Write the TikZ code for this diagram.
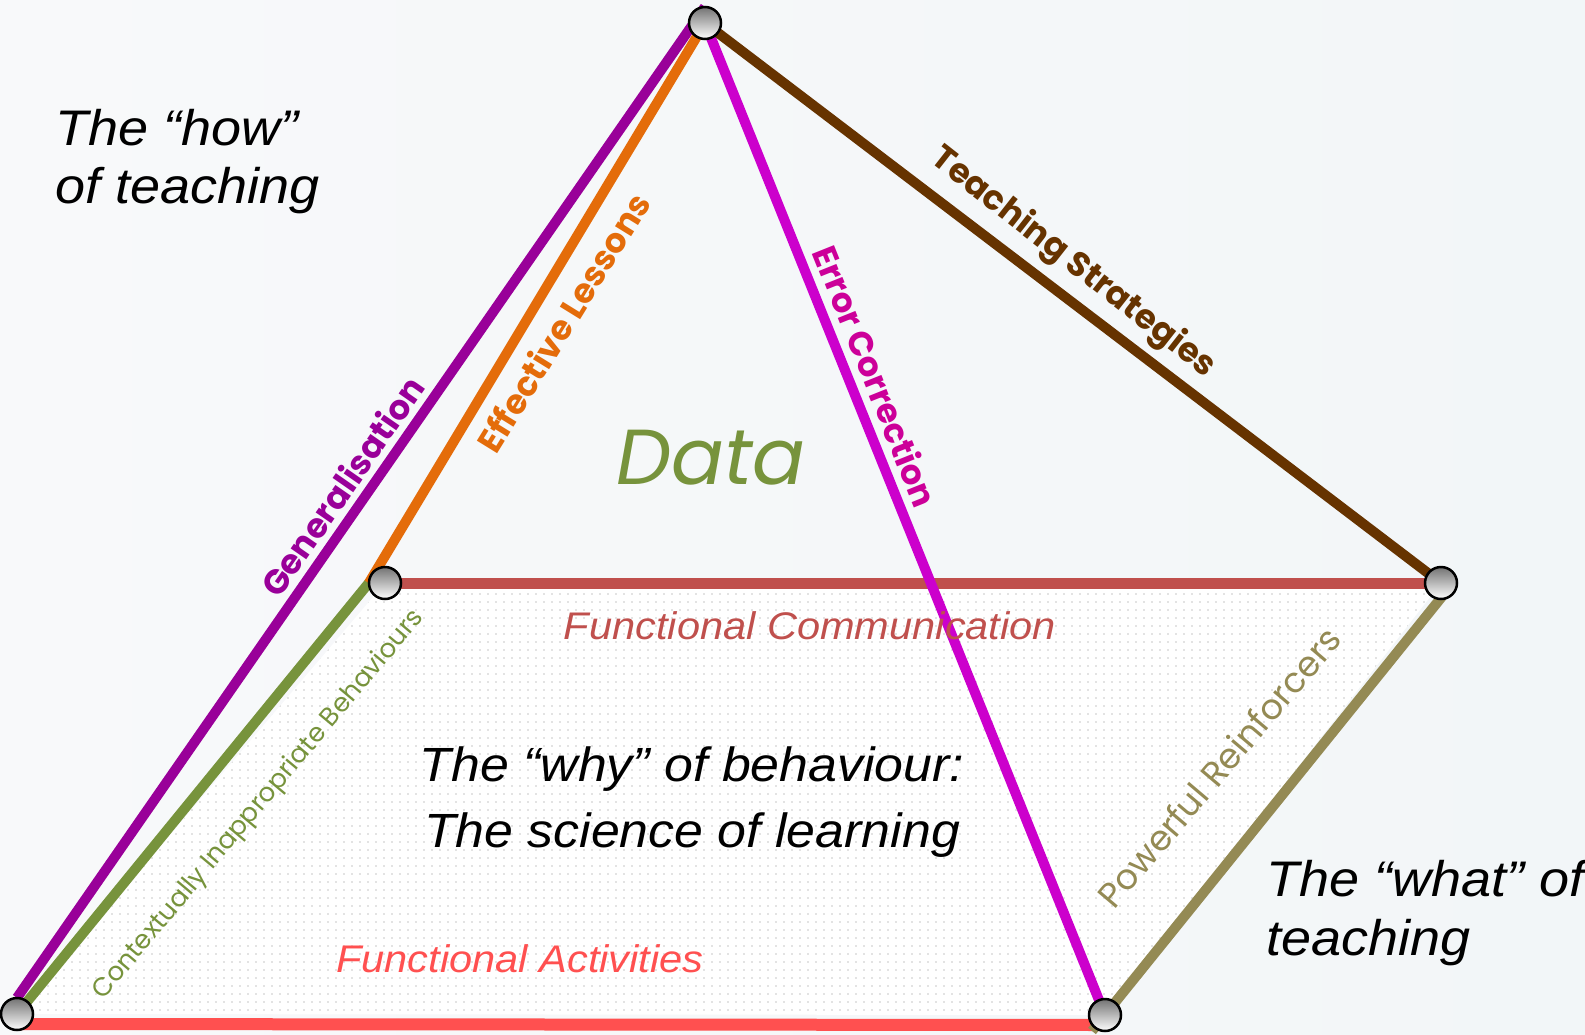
\documentclass[tikz,border=0pt]{standalone}
\usepackage{fontspec}
\setmainfont{Liberation Sans}
\newfontfamily\arialx[FakeStretch=1.08]{Liberation Sans}
\newfontfamily\gothic{Poppins}
\usetikzlibrary{calc,patterns.meta}
\definecolor{bgleft}{HTML}{F8F9FA}
\definecolor{bgright}{HTML}{F2F6F8}
\definecolor{genpurple}{HTML}{990099}
\definecolor{lessorange}{HTML}{E46C0A}
\definecolor{errmagenta}{HTML}{CC00CC}
\definecolor{errtext}{HTML}{CC0099}
\definecolor{stratbrown}{HTML}{663300}
\definecolor{commred}{HTML}{C0504D}
\definecolor{actred}{HTML}{FF5050}
\definecolor{behgreen}{HTML}{77933C}
\definecolor{reinfolive}{HTML}{948A54}
\tikzset{
	spot/.style={circle, minimum size=32pt, inner sep=0pt},
	ball/.style={spot, draw=black, line width=2.5pt, top color=black!55, bottom color=white},
	bar/.style={line width=10pt},
	boldlabel/.style={inner sep=0pt, font=\gothic\fontsize{34}{40}\selectfont\bfseries},
	thinlabel/.style={inner sep=0pt, font=\gothic\fontsize{#1}{#1}\selectfont},
	bigtext/.style 2 args={inner sep=0pt, font=\arialx\itshape\fontsize{#1}{#2}\selectfont},
	sidetext/.style={inner sep=0pt, font=\arialx\itshape\fontsize{38.5}{40}\selectfont}
}

\begin{document}
\begin{tikzpicture}[x=1pt, y=-1pt]
		%%%%% START %%%%%
		
		\fill[left color=bgleft, right color=bgright] (0,0) rectangle (1585,1034);
		\useasboundingbox (0,0) rectangle (1585,1034);
		
		% corner spots of the pyramid
		\node[spot] (T) at (705,23) {};
		\node[spot] (LM) at (385,583) {};
		\node[spot] (RM) at (1441,583) {};
		\node[spot] (BL) at (17,1014) {};
		\node[spot] (BR) at (1105,1015) {};
		
		% dotted base
		\fill[white] (BL.center) -- (LM.center) -- (RM.center) -- (BR.center) -- cycle;
		\fill[pattern={Dots[distance=8pt, radius=0.9pt]}, pattern color=black!22] (BL.center) -- (LM.center) -- (RM.center) -- (BR.center) -- cycle;
		
		% edges
		\draw[bar, line width=12pt, color=actred] ($(BL)+(0,10)$) -- ($(BR)+(0,10)$);
		\draw[bar, line width=11pt, color=commred] (LM) -- (RM);
		\draw[bar, color=behgreen] (BL) -- (LM.west);
		\draw[bar, color=reinfolive] ($(RM)+(12,0)$) -- ($(BR)+(-13,16)$);
		\draw[bar, color=genpurple] (BL.north) -- (T.north);
		\draw[bar, color=lessorange] (LM.west) -- (T);
		\draw[bar, color=errmagenta] (T) -- (BR);
		\draw[bar, color=stratbrown] (T) -- (RM);
		
		\node[ball] (Tball) at (T) {};
		\node[ball] (LMball) at (LM) {};
		\node[ball] (RMball) at (RM) {};
		\node[ball] (BLball) at (BL) {};
		\node[ball] (BRball) at (BR) {};
		
		% edge labels
		\node[boldlabel, text=genpurple, rotate=55.2] (gen) at (342,486) {Generalisation};
		\node[boldlabel, text=lessorange, rotate=58.3] (less) at (563,322) {Effective Lessons};
		\node[boldlabel, text=errtext, rotate=-68.2] (err) at (876,376) {Error Correction};
		\node[boldlabel, text=stratbrown, rotate=-38.1] (strat) at (1073,263) {Teaching Strategies};
		\node[thinlabel=26, text=behgreen, rotate=50] (beh) at (259,805) {Contextually Inappropriate Behaviours};
		\node[thinlabel=35, text=reinfolive, rotate=49.7] (reinf) at (1219,767) {Powerful Reinforcers};
		
		\node[sidetext, text=commred, anchor=base] (comm) at (810,639) {Functional Communication};
		\node[sidetext, text=actred, anchor=base] (act) at (520,972) {Functional Activities};
		
		\node[inner sep=0pt, text=behgreen, font=\gothic\itshape\fontsize{78}{80}\selectfont] (data) at (711,458) {Data};
		
		% block texts
		\node[bigtext={50}{58}, align=left, anchor=north west] (how) at (55,109) {The “how”\\of teaching};
		\node[bigtext={48}{66}, align=center, anchor=north] (why) at (692,747) {The “why” of behaviour:\\The science of learning};
		\node[bigtext={50}{59}, align=left, anchor=north west] (what) at (1266,860) {The “what” of\\teaching};
		
		%%%%% END %%%%%
\end{tikzpicture}
\end{document}
